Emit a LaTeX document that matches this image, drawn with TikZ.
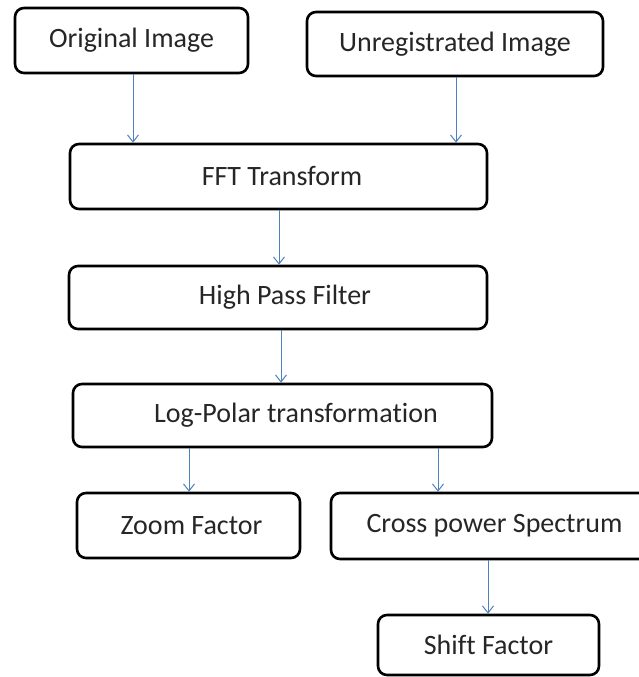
\documentclass[tikz,border=0pt]{standalone}
\usepackage{fontspec}
\setmainfont{Carlito}[Ligatures=NoCommon]
\usetikzlibrary{arrows.meta}
\definecolor{arrowblue}{HTML}{4F81BD}
\definecolor{txt}{HTML}{262626}
\begin{document}
\begin{tikzpicture}[x=1pt,y=-1pt,
  box/.style={draw=black,line width=2.6pt,rounded corners=9pt,fill=white,
    inner sep=0pt,font=\fontsize{28}{32}\selectfont,text=txt},
  flow/.style={draw=arrowblue,line width=1pt,-{Straight Barb[length=7pt,width=11pt,line width=1pt]}}]
\useasboundingbox[fill=white] (0,0) rectangle (639,677);
\node[box,minimum width=233pt,minimum height=65pt] (orig) at (131.5,40.5) {Original Image};
\node[box,minimum width=296pt,minimum height=64pt] (unreg) at (455,44) {Unregistrated Image};
\node[box,minimum width=417pt,minimum height=65pt] (fft) at (278.5,176.5) {\hspace*{7pt}FFT Transform};
\node[box,minimum width=418pt,minimum height=63pt] (hp) at (278,297.5) {\hspace*{14pt}High Pass Filter};
\node[box,minimum width=419pt,minimum height=63pt] (lp) at (282.5,415.5) {\hspace*{27pt}Log-Polar transformation};
\node[box,minimum width=223pt,minimum height=65pt] (zoom) at (188.5,525.5) {\hspace*{6pt}Zoom Factor};
\node[box,minimum width=322pt,minimum height=66pt] (cross) at (492,526) {\hspace*{5pt}Cross power Spectrum};
\node[box,minimum width=221pt,minimum height=60pt] (shift) at (488.5,645) {Shift Factor};
\draw[flow] (orig.south -| 133,0) -- (fft.north -| 133,0);
\draw[flow] (unreg.south -| 456,0) -- (fft.north -| 456,0);
\draw[flow] (fft.south -| 279,0) -- (hp.north -| 279,0);
\draw[flow] (hp.south -| 281,0) -- (lp.north -| 281,0);
\draw[flow] (lp.south -| 189,0) -- (zoom.north -| 189,0);
\draw[flow] (lp.south -| 438,0) -- (cross.north -| 438,0);
\draw[flow] (cross.south -| 488,0) -- (shift.north -| 488,0);
\end{tikzpicture}
\end{document}
